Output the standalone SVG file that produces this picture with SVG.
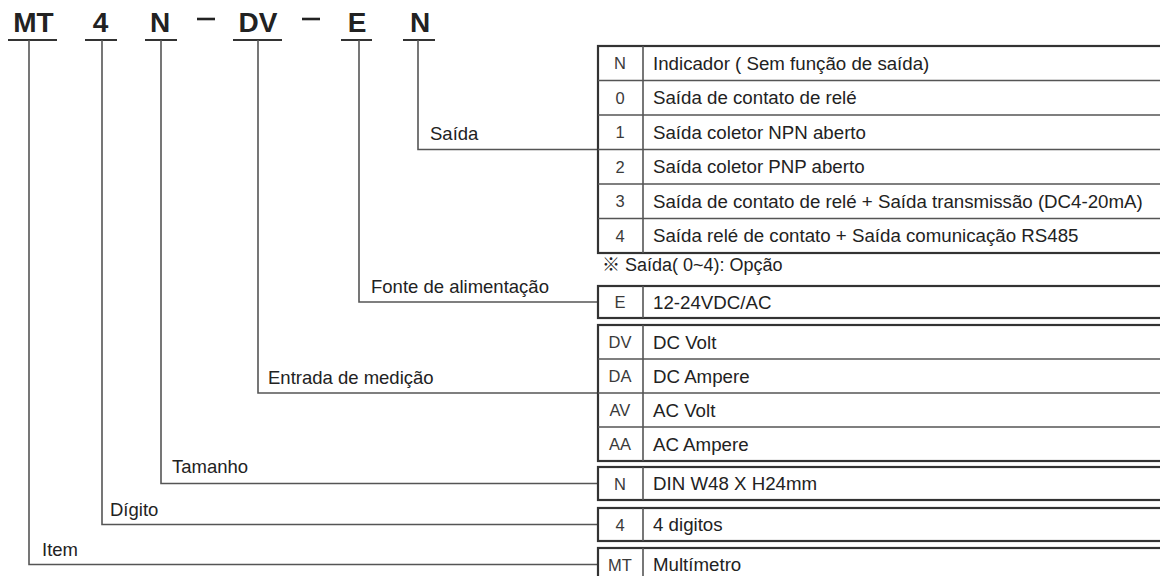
<svg xmlns="http://www.w3.org/2000/svg" width="1160" height="576" viewBox="0 0 1160 576">
<style>
.hd{font-family:"Liberation Sans",Arial,sans-serif;font-weight:bold;font-size:28px;fill:#222;text-anchor:middle}
.lb{font-family:"Liberation Sans",Arial,sans-serif;font-size:18.5px;fill:#222}
.ds{font-family:"Liberation Sans",Arial,sans-serif;font-size:18.7px;fill:#222}
.cd{font-family:"Liberation Sans",Arial,sans-serif;font-size:16.5px;fill:#3a3a3a;text-anchor:middle}
.nt{font-family:"Liberation Sans","Noto Sans CJK JP",sans-serif;font-size:18px;fill:#222}
.box{fill:#fff;stroke:#333;stroke-width:2.2}
.row{stroke:#555;stroke-width:1.6;fill:none}
.ul{stroke:#333;stroke-width:2;fill:none}
.dash{stroke:#222;stroke-width:2.6;fill:none}
.cn{stroke:#555;stroke-width:1.6;fill:none}
</style>
<rect width="1160" height="576" fill="#fff"/>

<g id="header">
<text class="hd" x="33.5" y="32">MT</text>
<text class="hd" x="100.5" y="32">4</text>
<text class="hd" x="160" y="32">N</text>
<line class="dash" x1="197" y1="19" x2="215" y2="19"/>
<text class="hd" x="258" y="32">DV</text>
<line class="dash" x1="302" y1="19" x2="320" y2="19"/>
<text class="hd" x="357" y="32">E</text>
<text class="hd" x="420" y="32">N</text>
<line class="ul" x1="8" y1="40" x2="57" y2="40"/>
<line class="ul" x1="85" y1="40" x2="117" y2="40"/>
<line class="ul" x1="145" y1="40" x2="177" y2="40"/>
<line class="ul" x1="233" y1="40" x2="282" y2="40"/>
<line class="ul" x1="341" y1="40" x2="372" y2="40"/>
<line class="ul" x1="403" y1="40" x2="435" y2="40"/>
</g>

<g id="connectors">
<polyline class="cn" points="418,40 418,149.5 598,149.5"/>
<polyline class="cn" points="359,40 359,302 598,302"/>
<polyline class="cn" points="258,40 258,393 598,393"/>
<polyline class="cn" points="161,40 161,483.5 598,483.5"/>
<polyline class="cn" points="102,40 102,524.5 598,524.5"/>
<polyline class="cn" points="29,40 29,564.5 598,564.5"/>
</g>

<g id="labels">
<text class="lb" x="430" y="140">Saída</text>
<text class="lb" x="371" y="293">Fonte de alimentação</text>
<text class="lb" x="268" y="384">Entrada de medição</text>
<text class="lb" x="172" y="473">Tamanho</text>
<text class="lb" x="110" y="516">Dígito</text>
<text class="lb" x="42" y="556">Item</text>
</g>

<g id="table-saida">
<rect class="box" x="598" y="46" width="580" height="207"/>
<line class="row" x1="598" y1="80.5" x2="1160" y2="80.5"/>
<line class="row" x1="598" y1="115" x2="1160" y2="115"/>
<line class="row" x1="598" y1="149.5" x2="1160" y2="149.5"/>
<line class="row" x1="598" y1="184" x2="1160" y2="184"/>
<line class="row" x1="598" y1="218.5" x2="1160" y2="218.5"/>
<line class="row" x1="643" y1="46" x2="643" y2="253"/>
<text class="cd" x="620" y="69">N</text>
<text class="cd" x="620" y="103.5">0</text>
<text class="cd" x="620" y="138">1</text>
<text class="cd" x="620" y="172.5">2</text>
<text class="cd" x="620" y="207">3</text>
<text class="cd" x="620" y="241.5">4</text>
<text class="ds" x="653" y="69.8">Indicador ( Sem função de saída)</text>
<text class="ds" x="653" y="104.3">Saída de contato de relé</text>
<text class="ds" x="653" y="138.8">Saída coletor NPN aberto</text>
<text class="ds" x="653" y="173.3">Saída coletor PNP aberto</text>
<text class="ds" x="653" y="207.8">Saída de contato de relé + Saída transmissão (DC4-20mA)</text>
<text class="ds" x="653" y="242.3">Saída relé de contato + Saída comunicação RS485</text>
</g>

<text id="note" class="nt" x="602" y="271">※ Saída( 0~4): Opção</text>

<g id="box-fonte">
<rect class="box" x="598" y="286" width="580" height="32"/>
<line class="row" x1="643" y1="286" x2="643" y2="318"/>
<text class="cd" x="620" y="308">E</text>
<text class="ds" x="653" y="308.5">12-24VDC/AC</text>
</g>

<g id="table-entrada">
<rect class="box" x="598" y="325" width="580" height="136"/>
<line class="row" x1="598" y1="359" x2="1160" y2="359"/>
<line class="row" x1="598" y1="393" x2="1160" y2="393"/>
<line class="row" x1="598" y1="427" x2="1160" y2="427"/>
<line class="row" x1="643" y1="325" x2="643" y2="461"/>
<text class="cd" x="620" y="348">DV</text>
<text class="cd" x="620" y="382">DA</text>
<text class="cd" x="620" y="416">AV</text>
<text class="cd" x="620" y="450">AA</text>
<text class="ds" x="653" y="348.5">DC Volt</text>
<text class="ds" x="653" y="382.5">DC Ampere</text>
<text class="ds" x="653" y="416.5">AC Volt</text>
<text class="ds" x="653" y="450.5">AC Ampere</text>
</g>

<g id="box-tamanho">
<rect class="box" x="598" y="467" width="580" height="33"/>
<line class="row" x1="643" y1="467" x2="643" y2="500"/>
<text class="cd" x="620" y="489.5">N</text>
<text class="ds" x="653" y="490">DIN W48 X H24mm</text>
</g>

<g id="box-digito">
<rect class="box" x="598" y="508" width="580" height="33"/>
<line class="row" x1="643" y1="508" x2="643" y2="541"/>
<text class="cd" x="620" y="530.5">4</text>
<text class="ds" x="653" y="531">4 digitos</text>
</g>

<g id="box-item">
<rect class="box" x="598" y="548" width="580" height="40"/>
<line class="row" x1="643" y1="548" x2="643" y2="588"/>
<text class="cd" x="620" y="571">MT</text>
<text class="ds" x="653" y="571">Multímetro</text>
</g>
</svg>
